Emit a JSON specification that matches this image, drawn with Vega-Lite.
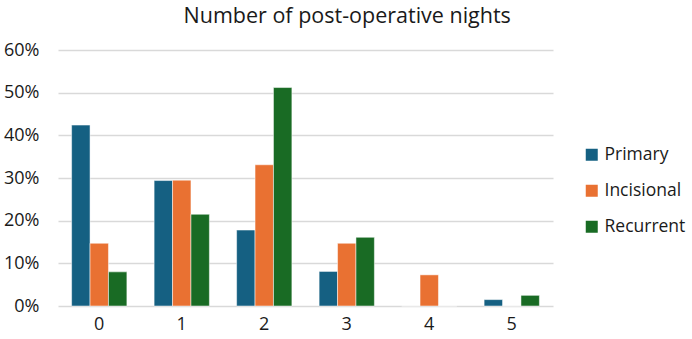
{
  "$schema": "https://vega.github.io/schema/vega-lite/v6.json",
  "autosize": "none",
  "width": 495,
  "height": 256,
  "padding": {"left": 58, "top": 50, "right": 139, "bottom": 33},
  "background": "white",
  "title": {"text": "Number of post-operative nights", "font": "Open Sans", "fontSize": 21.5, "fontWeight": "normal", "color": "#1a1a1a", "anchor": "start", "dx": 180, "offset": 14},
  "data": {"values": [
    {"nights": "0", "type": "Primary", "pct": 0.424},
    {"nights": "0", "type": "Incisional", "pct": 0.147},
    {"nights": "0", "type": "Recurrent", "pct": 0.080},
    {"nights": "1", "type": "Primary", "pct": 0.294},
    {"nights": "1", "type": "Incisional", "pct": 0.295},
    {"nights": "1", "type": "Recurrent", "pct": 0.215},
    {"nights": "2", "type": "Primary", "pct": 0.178},
    {"nights": "2", "type": "Incisional", "pct": 0.331},
    {"nights": "2", "type": "Recurrent", "pct": 0.512},
    {"nights": "3", "type": "Primary", "pct": 0.081},
    {"nights": "3", "type": "Incisional", "pct": 0.147},
    {"nights": "3", "type": "Recurrent", "pct": 0.161},
    {"nights": "4", "type": "Primary", "pct": 0},
    {"nights": "4", "type": "Incisional", "pct": 0.073},
    {"nights": "4", "type": "Recurrent", "pct": 0},
    {"nights": "5", "type": "Primary", "pct": 0.015},
    {"nights": "5", "type": "Incisional", "pct": 0},
    {"nights": "5", "type": "Recurrent", "pct": 0.025}
  ]},
  "mark": {"type": "bar", "stroke": "white", "strokeWidth": 0.5},
  "encoding": {
    "x": {"field": "nights", "type": "nominal", "title": null,
      "scale": {"paddingInner": 0.33, "paddingOuter": 0.165},
      "axis": {"labelAngle": 0, "labelFont": "Open Sans", "labelFontSize": 18, "labelColor": "#1a1a1a", "labelPadding": 9, "domain": false, "ticks": false}},
    "xOffset": {"field": "type", "type": "nominal", "sort": ["Primary", "Incisional", "Recurrent"]},
    "y": {"field": "pct", "type": "quantitative", "title": null,
      "scale": {"domain": [0, 0.6], "nice": false},
      "axis": {"format": ".0%", "values": [0, 0.1, 0.2, 0.3, 0.4, 0.5, 0.6], "labelFont": "Open Sans", "labelFontSize": 18, "labelColor": "#1a1a1a", "labelPadding": 19, "domain": false, "ticks": false, "gridColor": "#d9d9d9", "gridWidth": 1.3}},
    "color": {"field": "type", "type": "nominal", "sort": ["Primary", "Incisional", "Recurrent"],
      "scale": {"domain": ["Primary", "Incisional", "Recurrent"], "range": ["#156082", "#e97132", "#196b24"]},
      "legend": {"title": null, "orient": "none", "legendX": 525, "legendY": 96, "symbolType": "square", "symbolSize": 144, "symbolStrokeWidth": 0, "labelFont": "Open Sans", "labelFontSize": 17.5, "labelLimit": 0, "labelColor": "#1a1a1a", "rowPadding": 17, "labelOffset": 4}}
  },
  "config": {"view": {"stroke": null}}
}
